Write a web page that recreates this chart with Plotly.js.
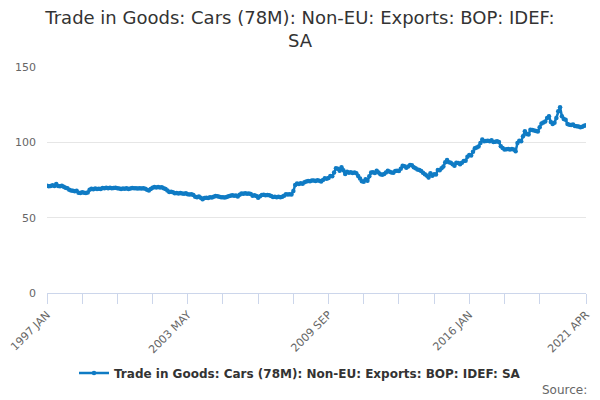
<!DOCTYPE html>
<html>
<head>
<meta charset="utf-8">
<script src="https://cdn.plot.ly/plotly-3.0.1.min.js"></script>
<style>html,body{margin:0;padding:0;background:#fff}#chart{width:600px;height:400px}</style>
</head>
<body>
<div id="chart"></div>
<script>
var startYear = 1997;
var monthNames = ["JAN","FEB","MAR","APR","MAY","JUN","JUL","AUG","SEP","OCT","NOV","DEC"];
var seriesName = "Trade in Goods: Cars (78M): Non-EU: Exports: BOP: IDEF: SA";

var values1997 = [71.2, 70.8, 71.0, 71.5, 71.0, 72.3, 71.0, 70.8, 71.2, 70.5, 69.8, 69.5];
var values1998 = [68.5, 68.0, 67.8, 67.5, 67.9, 66.6, 66.4, 66.8, 66.5, 66.3, 66.7, 68.5];
var values1999 = [69.2, 68.9, 69.3, 69.0, 69.2, 69.0, 69.7, 69.5, 69.9, 69.6, 69.8, 69.5];
var values2000 = [69.7, 69.9, 69.6, 69.3, 69.0, 69.4, 69.2, 69.5, 69.1, 69.3, 69.7, 69.5];
var values2001 = [69.6, 69.4, 69.5, 69.3, 69.6, 69.2, 68.5, 68.0, 69.0, 69.8, 70.3, 70.0];
var values2002 = [70.4, 70.1, 70.2, 69.6, 69.0, 68.0, 67.0, 67.2, 66.8, 66.2, 66.4, 66.0];
var values2003 = [66.3, 66.1, 65.9, 66.2, 65.6, 65.4, 65.5, 65.0, 63.8, 63.5, 64.0, 63.3];
var values2004 = [62.2, 63.0, 63.3, 63.1, 63.5, 63.4, 63.8, 64.4, 64.2, 63.8, 63.5, 63.6];
var values2005 = [63.4, 63.7, 64.2, 64.6, 64.8, 64.5, 64.7, 64.0, 65.2, 66.0, 65.8, 66.2];
var values2006 = [65.9, 66.1, 65.7, 64.6, 64.8, 64.4, 63.3, 64.2, 65.0, 65.2, 64.8, 65.1];
var values2007 = [64.9, 64.3, 63.7, 63.9, 63.5, 63.8, 63.6, 63.9, 64.6, 65.5, 65.3, 65.6];
var values2008 = [65.4, 67.7, 71.7, 72.6, 72.3, 72.8, 72.5, 73.5, 74.0, 74.4, 74.2, 74.6];
var values2009 = [74.6, 74.3, 74.8, 74.5, 74.0, 75.0, 76.2, 75.8, 76.4, 77.7, 77.5, 79.9];
var values2010 = [82.8, 82.5, 81.2, 83.4, 81.5, 79.0, 80.5, 79.8, 80.1, 79.6, 80.0, 79.5];
var values2011 = [77.7, 76.0, 74.2, 73.9, 75.5, 74.5, 77.5, 79.9, 80.2, 79.6, 81.2, 80.0];
var values2012 = [78.8, 78.5, 79.0, 80.0, 81.2, 80.5, 80.0, 79.8, 81.0, 81.2, 81.0, 82.5];
var values2013 = [84.5, 84.2, 83.2, 84.0, 85.0, 84.8, 83.5, 82.8, 82.0, 81.6, 81.0, 79.8];
var values2014 = [78.8, 78.0, 76.6, 79.5, 77.8, 78.8, 78.6, 81.7, 81.5, 82.8, 83.9, 86.8];
var values2015 = [88.3, 86.7, 86.5, 85.5, 84.5, 86.5, 86.3, 85.5, 86.5, 87.6, 87.8, 90.5];
var values2016 = [91.6, 91.2, 93.8, 96.0, 96.5, 97.2, 99.6, 101.8, 100.7, 100.9, 101.1, 100.8];
var values2017 = [101.3, 100.2, 100.4, 100.7, 100.2, 97.4, 96.3, 95.2, 95.4, 95.6, 95.2, 95.5];
var values2018 = [95.3, 94.1, 99.6, 101.1, 100.8, 104.0, 107.4, 105.6, 105.2, 108.4, 108.2, 107.8];
var values2019 = [107.6, 107.2, 110.0, 112.5, 113.2, 113.8, 116.2, 117.3, 113.5, 112.2, 113.0, 116.2];
var values2020 = [120.6, 123.3, 117.3, 115.5, 115.0, 112.2, 111.7, 111.5, 111.8, 110.9, 110.7, 110.5];
var values2021 = [110.0, 110.4, 111.0, 111.3];

var yearly = [values1997, values1998, values1999, values2000, values2001, values2002, values2003,
  values2004, values2005, values2006, values2007, values2008, values2009, values2010, values2011,
  values2012, values2013, values2014, values2015, values2016, values2017, values2018, values2019,
  values2020, values2021];

var categories = [];
var values = [];
yearly.forEach(function (arr, yi) {
  arr.forEach(function (v, mi) {
    categories.push((startYear + yi) + " " + monthNames[mi]);
    values.push(v);
  });
});

var tickCategories = ["1997 JAN","1998 AUG","2000 MAR","2001 OCT","2003 MAY","2004 DEC","2006 JUL","2008 FEB","2009 SEP","2011 APR","2012 NOV","2014 JUN","2016 JAN","2017 AUG","2019 MAR","2021 APR"];
var tickLabels = ["1997 JAN","","","","2003 MAY","","","","2009 SEP","","","","2016 JAN","","","2021 APR"];
var yTicks = [0, 50, 100, 150];

var trace = {
  type: "scatter",
  mode: "lines+markers",
  name: seriesName,
  x: categories,
  y: values,
  line: {color: "#0f7bc4", width: 2.5},
  marker: {color: "#0f7bc4", size: 4.5},
  hoverinfo: "x+y"
};

var layout = {
  width: 600, height: 400,
  paper_bgcolor: "#ffffff", plot_bgcolor: "#ffffff",
  font: {family: "DejaVu Sans, Verdana, sans-serif", color: "#333333"},
  margin: {l: 46.5, r: 14, t: 67, b: 107},
  title: {
    text: "Trade in Goods: Cars (78M): Non-EU: Exports: BOP: IDEF:<br>SA",
    x: 0.5, xanchor: "center", xref: "container",
    y: 0.94, yanchor: "top", yref: "container",
    font: {size: 18, color: "#333333", family: "DejaVu Sans, Verdana, sans-serif"}
  },
  xaxis: {
    type: "category",
    range: [0, categories.length - 1],
    tickmode: "array",
    tickvals: tickCategories,
    ticktext: tickLabels,
    tickangle: -45,
    ticks: "outside", ticklen: 10, tickcolor: "#ccd6eb", tickwidth: 1,
    showline: true, linecolor: "#ccd6eb", linewidth: 1,
    showgrid: false, zeroline: false,
    tickfont: {size: 11, color: "#666666"}
  },
  yaxis: {
    range: [0, 150],
    tickmode: "array", tickvals: yTicks,
    showgrid: true, gridcolor: "#e6e6e6", gridwidth: 1,
    zeroline: false, showline: false, ticks: "",
    ticklabelstandoff: 10,
    tickfont: {size: 11, color: "#666666"}
  },
  showlegend: true,
  legend: {
    orientation: "h",
    x: 0.5, xanchor: "center", xref: "container",
    y: 1 - 373 / 400, yanchor: "middle", yref: "container",
    font: {size: 12, color: "#333333", family: "DejaVu Sans, Verdana, sans-serif", weight: "bold"},
    itemwidth: 30
  },
  annotations: [{
    text: "Source:",
    xref: "paper", yref: "paper",
    x: 1.0056, xanchor: "right",
    y: (293 - 390) / 226, yanchor: "middle",
    showarrow: false,
    font: {size: 12, color: "#666666"}
  }]
};

Plotly.newPlot("chart", [trace], layout, {displayModeBar: false, staticPlot: true});
</script>
</body>
</html>
